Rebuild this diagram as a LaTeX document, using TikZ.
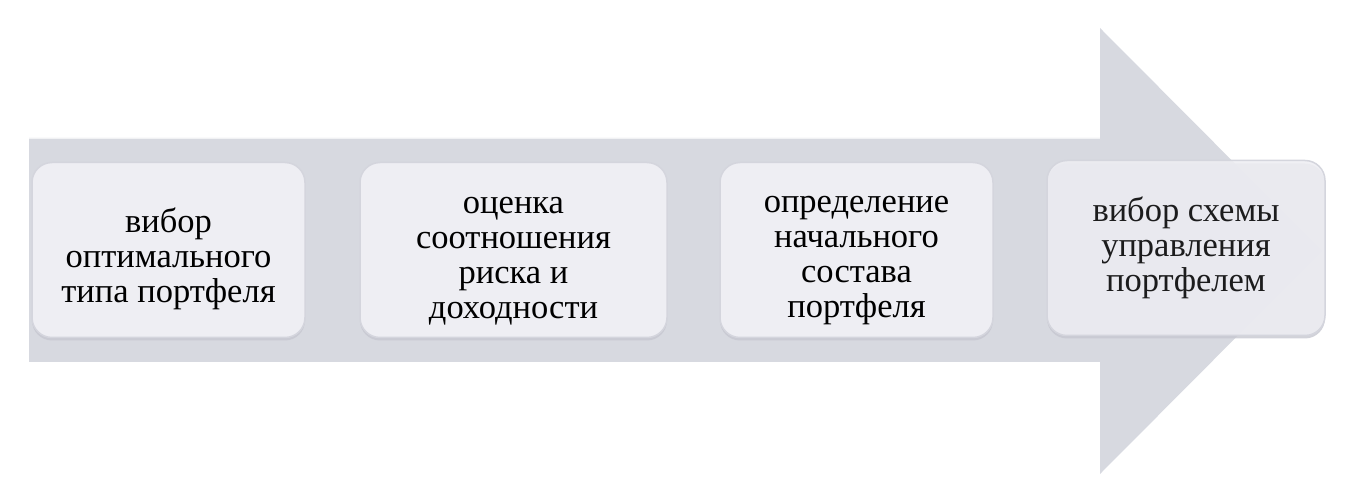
\documentclass[tikz,border=0pt]{standalone}
\usepackage{fontspec}
\setmainfont{Liberation Serif}
\usetikzlibrary{shadows}
\definecolor{myArrowGray}{RGB}{215, 217, 224}
\definecolor{myBoxFill}{RGB}{238, 238, 243}
\definecolor{myBoxEdge}{RGB}{212, 213, 221}
\definecolor{myBoxShadow}{RGB}{198, 199, 208}
\newcommand{\topPad}{\rule{0pt}{38pt}}

\begin{document}
\begin{tikzpicture}[x=1pt, y=-1pt,
		stepbox/.style={draw=myBoxEdge, line width=1.5pt, fill=myBoxFill, rounded corners=20pt,
			minimum height=175pt, align=center, font=\fontsize{34.5}{35}\selectfont,
			drop shadow={shadow xshift=0pt, shadow yshift=-3pt, fill=myBoxShadow, opacity=0.8}}]
			\useasboundingbox (0,0) rectangle (1361,478);
			\fill[myArrowGray] (29,138) -- (1100,138) -- (1100,28) -- (1322,251)
				-- (1100,474) -- (1100,362) -- (29,362) -- cycle;
			\draw[white!65!myArrowGray, line width=1.5pt] (29,138.5) -- (1100,138.5);

			\draw (168.5,250) node[stepbox, minimum width=273pt] (b1) {\rule{0pt}{42pt}вибор\\оптимального\\типа портфеля};
			\draw (513.5,250) node[stepbox, minimum width=307pt] (b2) {\topPad оценка\\соотношения\\риска и\\доходности};
			\draw (856.5,250) node[stepbox, minimum width=273pt] (b3) {\topPad определение\\начального\\состава\\портфеля};
			\draw (1186,248) node[stepbox, minimum width=278pt, fill opacity=0.88] (b4) {вибор схемы\\управления\\портфелем};
		\end{tikzpicture}
\end{document}
